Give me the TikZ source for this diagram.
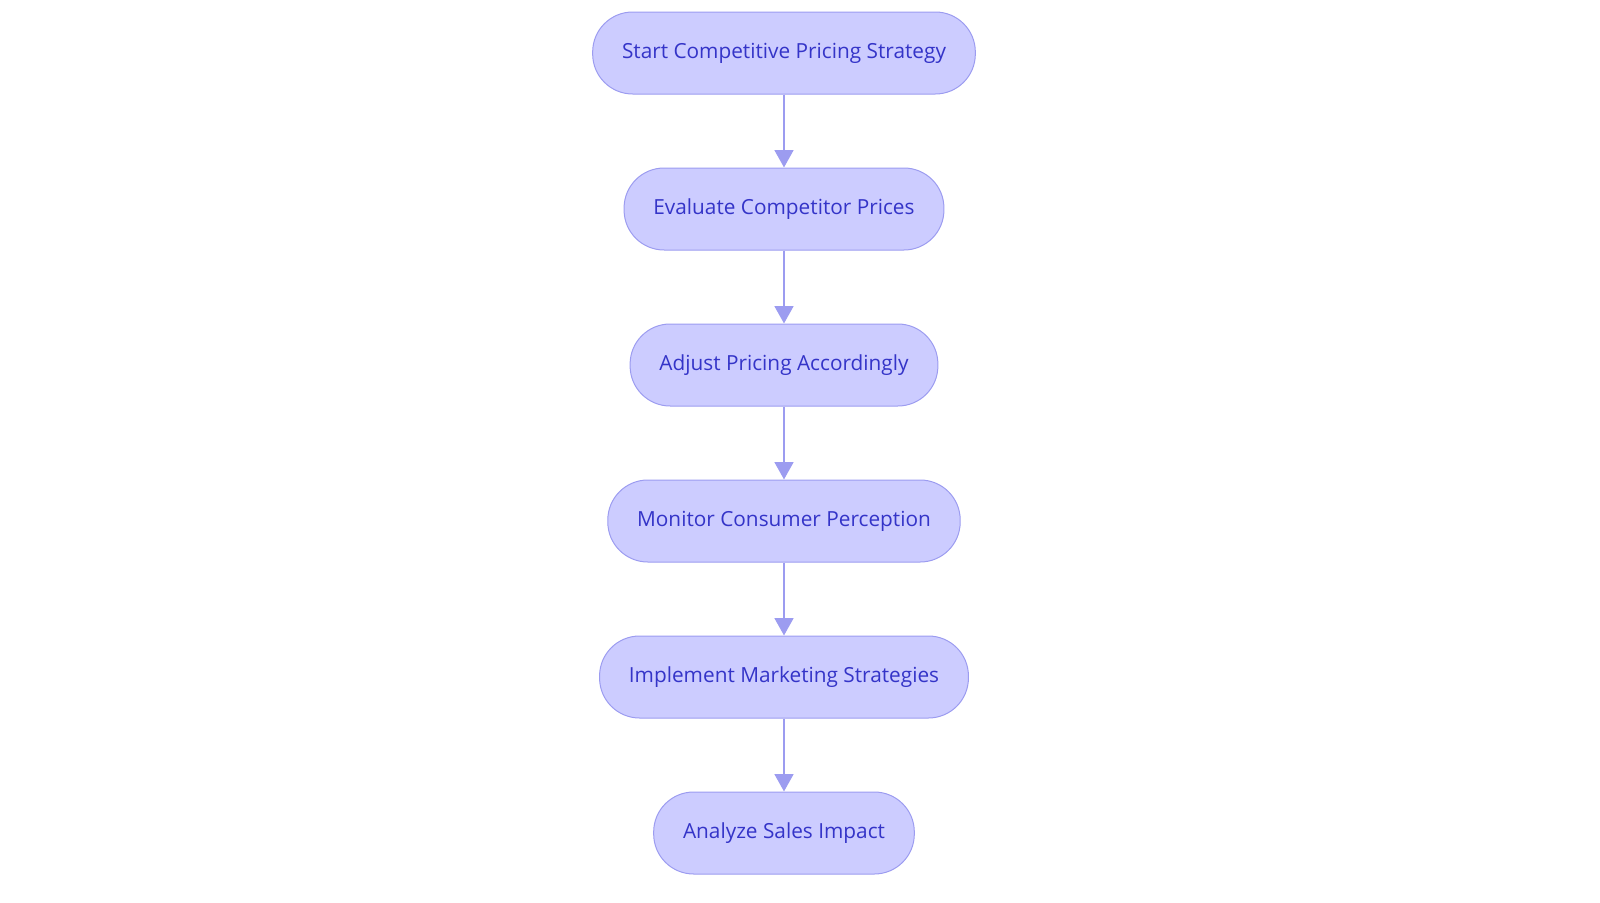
\documentclass[tikz,border=0pt]{standalone}
\usepackage{fontspec}
\setmainfont{Open Sans}
\usetikzlibrary{positioning,arrows.meta}
\definecolor{boxfill}{HTML}{CCCCFF}
\definecolor{boxline}{HTML}{9C9CF0}
\definecolor{boxtext}{HTML}{3434C8}
\begin{document}
\begin{tikzpicture}[x=0.75pt,y=-0.75pt,
    stepbox/.style={draw=boxline,fill=boxfill,line width=0.75pt,rounded corners=30pt,
        minimum height=61.5pt,inner xsep=22pt,text=boxtext,font=\fontsize{15.6}{18}\selectfont},
    flow/.style={draw=boxline,line width=1.8pt,-{Triangle[width=14pt,length=13pt]}},
    node distance=54.75pt]

    \useasboundingbox (0,0) rectangle (1600,903);

    \node[stepbox] (start) at (784,53) {Start Competitive Pricing Strategy};
    \node[stepbox,below=of start] (evaluate) {Evaluate Competitor Prices};
    \node[stepbox,below=of evaluate] (adjust) {Adjust Pricing Accordingly};
    \node[stepbox,below=of adjust] (monitor) {Monitor Consumer Perception};
    \node[stepbox,below=of monitor] (implement) {Implement Marketing Strategies};
    \node[stepbox,below=of implement] (analyze) {Analyze Sales Impact};

    \draw[flow] (start) -- (evaluate);
    \draw[flow] (evaluate) -- (adjust);
    \draw[flow] (adjust) -- (monitor);
    \draw[flow] (monitor) -- (implement);
    \draw[flow] (implement) -- (analyze);
\end{tikzpicture}
\end{document}
